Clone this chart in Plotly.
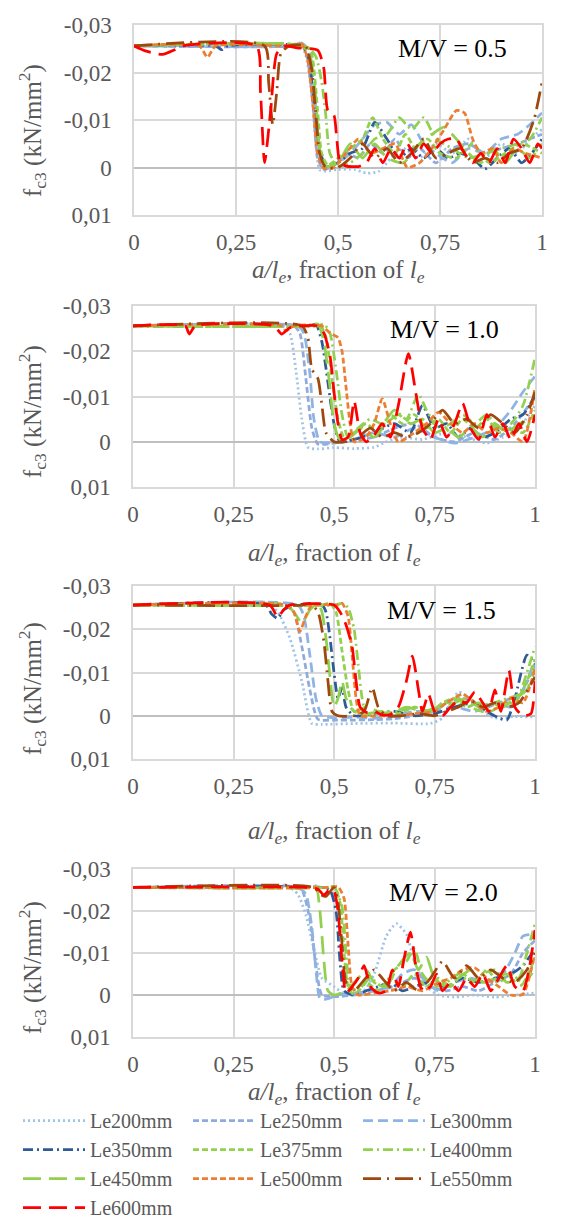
import plotly.graph_objects as go

W, H = 575, 1222
FONT = "Liberation Serif"
GREY = "#595959"

SERIES = ["Le200mm", "Le250mm", "Le300mm", "Le350mm", "Le375mm",
          "Le400mm", "Le450mm", "Le500mm", "Le550mm", "Le600mm"]
COLORS = ["#9DC3E6", "#8FAADC", "#8EB4E3", "#2E5A96", "#92D050",
          "#92D050", "#92D050", "#ED7D31", "#9E480E", "#FF0000"]
DASHES = ["2px,3px", "6px,3px", "10px,5px", "10px,4px,2px,4px", "6px,3px",
          "10px,4px,2px,4px", "18px,8px", "6px,3px", "18px,6px,2px,6px", "18px,8px"]

MV_LABELS = ["M/V = 0.5", "M/V = 1.0", "M/V = 1.5", "M/V = 2.0"]
X_TICKS = [0, 0.25, 0.5, 0.75, 1]
X_TICK_TEXT = ["0", "0,25", "0,5", "0,75", "1"]
Y_TICKS = [-0.03, -0.02, -0.01, 0, 0.01]
Y_TICK_TEXT = ["-0,03", "-0,02", "-0,01", "0", "0,01"]

# ---------------- M/V = 0.5 ----------------
MV05_LE200 = [(0,-0.0256),(0.38,-0.0256),(0.405,-0.0262),(0.42,-0.024),(0.435,-0.016),(0.445,-0.006),(0.455,0.0005),(0.47,0.0008),(0.50,0.0004),(0.54,0.0004),(0.57,0.0012),(0.60,0.0008),(0.63,-0.002),(0.66,-0.004),(0.70,-0.002),(0.74,-0.005),(0.78,-0.003),(0.82,-0.006),(0.86,-0.002),(0.90,-0.005),(0.94,-0.003),(0.97,-0.006),(1.0,-0.008)]
MV05_LE250 = [(0,-0.0256),(0.39,-0.0256),(0.41,-0.0262),(0.425,-0.023),(0.44,-0.012),(0.45,-0.002),(0.465,0.0004),(0.49,-0.0005),(0.52,-0.003),(0.55,-0.002),(0.58,-0.005),(0.61,-0.003),(0.64,-0.006),(0.67,-0.002),(0.70,-0.004),(0.74,-0.001),(0.78,-0.004),(0.82,-0.005),(0.86,-0.003),(0.90,-0.004),(0.94,-0.005),(0.97,-0.006),(1.0,-0.007)]
MV05_LE300 = [(0,-0.0256),(0.40,-0.0256),(0.415,-0.026),(0.43,-0.024),(0.445,-0.013),(0.455,-0.003),(0.47,0),(0.50,-0.001),(0.53,-0.003),(0.56,-0.006),(0.59,-0.009),(0.62,-0.0095),(0.65,-0.007),(0.68,-0.009),(0.71,-0.005),(0.74,-0.003),(0.78,-0.001),(0.82,-0.004),(0.86,-0.003),(0.90,-0.006),(0.94,-0.007),(0.97,-0.009),(1.0,-0.0115)]
MV05_LE350 = [(0,-0.0256),(0.20,-0.0256),(0.215,-0.0248),(0.23,-0.0256),(0.41,-0.0256),(0.425,-0.024),(0.44,-0.015),(0.455,-0.004),(0.47,-0.0003),(0.50,-0.001),(0.53,-0.003),(0.56,-0.004),(0.59,-0.0095),(0.62,-0.006),(0.65,-0.002),(0.68,-0.004),(0.71,-0.002),(0.74,-0.004),(0.77,-0.002),(0.80,-0.003),(0.83,-0.002),(0.86,0.0003),(0.89,-0.002),(0.92,-0.004),(0.95,-0.001),(0.975,-0.003),(1.0,-0.006)]
MV05_LE375 = [(0,-0.0256),(0.42,-0.0256),(0.435,-0.024),(0.45,-0.012),(0.46,-0.003),(0.475,-0.0005),(0.50,-0.002),(0.53,-0.004),(0.56,-0.006),(0.585,-0.0105),(0.61,-0.006),(0.64,-0.003),(0.665,-0.007),(0.69,-0.004),(0.72,-0.006),(0.75,-0.003),(0.79,-0.002),(0.83,-0.005),(0.87,-0.001),(0.91,-0.003),(0.95,-0.005),(1.0,-0.003)]
MV05_LE400 = [(0,-0.0256),(0.42,-0.0256),(0.445,-0.0235),(0.46,-0.018),(0.47,-0.011),(0.48,-0.003),(0.50,-0.0003),(0.53,-0.001),(0.56,-0.003),(0.59,-0.006),(0.62,-0.007),(0.65,-0.0105),(0.68,-0.008),(0.71,-0.0105),(0.74,-0.006),(0.78,-0.004),(0.82,-0.002),(0.86,-0.003),(0.90,-0.004),(0.94,-0.005),(0.97,-0.006),(1.0,-0.0105)]
MV05_LE450 = [(0,-0.0256),(0.41,-0.0256),(0.43,-0.024),(0.445,-0.015),(0.455,-0.004),(0.47,-0.0003),(0.50,-0.001),(0.53,-0.005),(0.56,-0.002),(0.59,-0.005),(0.62,-0.002),(0.66,-0.001),(0.70,-0.005),(0.73,-0.007),(0.76,-0.0085),(0.79,-0.006),(0.82,-0.003),(0.85,-0.001),(0.88,-0.004),(0.91,-0.001),(0.94,-0.004),(0.97,-0.002),(1.0,-0.005)]
MV05_LE500 = [(0,-0.0256),(0.16,-0.0256),(0.18,-0.0232),(0.20,-0.0256),(0.39,-0.0256),(0.41,-0.0262),(0.425,-0.023),(0.44,-0.012),(0.45,-0.003),(0.465,0.0002),(0.49,0),(0.52,-0.003),(0.55,-0.006),(0.58,-0.003),(0.61,-0.004),(0.64,-0.005),(0.67,0),(0.70,-0.001),(0.73,-0.004),(0.76,-0.008),(0.79,-0.012),(0.81,-0.0115),(0.83,-0.006),(0.85,-0.003),(0.88,-0.004),(0.90,-0.001),(0.93,-0.004),(0.96,-0.003),(1.0,-0.002)]
MV05_LE550 = [(0,-0.0256),(0.32,-0.0256),(0.33,-0.018),(0.34,-0.009),(0.35,-0.016),(0.36,-0.024),(0.38,-0.0256),(0.42,-0.0256),(0.435,-0.021),(0.445,-0.012),(0.455,-0.003),(0.47,0),(0.50,0),(0.53,-0.002),(0.56,-0.005),(0.59,-0.002),(0.62,-0.004),(0.65,-0.001),(0.68,-0.003),(0.71,-0.006),(0.74,-0.002),(0.77,-0.003),(0.80,-0.004),(0.83,-0.001),(0.86,-0.002),(0.89,-0.001),(0.92,-0.003),(0.95,-0.004),(0.98,-0.01),(1.0,-0.018)]
MV05_LE600 = [(0,-0.0256),(0.03,-0.0245),(0.07,-0.0238),(0.10,-0.0248),(0.12,-0.0256),(0.30,-0.0256),(0.31,-0.016),(0.32,-0.001),(0.335,-0.012),(0.35,-0.024),(0.37,-0.0256),(0.40,-0.0252),(0.45,-0.0247),(0.465,-0.021),(0.475,-0.012),(0.49,-0.011),(0.497,-0.006),(0.505,-0.001),(0.52,-0.0003),(0.55,-0.0002),(0.57,-0.001),(0.59,-0.004),(0.61,-0.001),(0.63,-0.004),(0.65,-0.002),(0.67,-0.005),(0.69,-0.002),(0.71,-0.005),(0.73,-0.003),(0.75,-0.005),(0.77,-0.006),(0.79,-0.006),(0.81,-0.003),(0.83,-0.001),(0.85,-0.003),(0.87,-0.001),(0.89,-0.004),(0.91,-0.001),(0.93,-0.006),(0.95,-0.004),(0.97,-0.001),(0.99,-0.005),(1.0,-0.004)]

# ---------------- M/V = 1.0 ----------------
MV10_LE200 = [(0,-0.0256),(0.37,-0.0256),(0.39,-0.024),(0.405,-0.016),(0.42,-0.005),(0.435,0.0012),(0.46,0.0016),(0.50,0.0013),(0.55,0.0015),(0.60,0.0012),(0.63,0),(0.67,-0.001),(0.72,-0.0005),(0.78,-0.002),(0.83,-0.001),(0.88,0.0003),(0.92,-0.001),(0.96,-0.003),(1.0,-0.008)]
MV10_LE250 = [(0,-0.0256),(0.40,-0.0256),(0.415,-0.024),(0.43,-0.014),(0.445,-0.003),(0.46,0.0005),(0.50,0.0003),(0.55,-0.0005),(0.60,-0.001),(0.65,-0.003),(0.70,-0.004),(0.75,-0.001),(0.80,0),(0.85,-0.002),(0.90,-0.0005),(0.95,-0.004),(1.0,-0.01)]
MV10_LE300 = [(0,-0.0256),(0.41,-0.0256),(0.425,-0.024),(0.44,-0.015),(0.45,-0.005),(0.465,0),(0.50,0.0002),(0.55,-0.0005),(0.60,-0.002),(0.65,-0.001),(0.70,-0.003),(0.75,-0.001),(0.80,0.0003),(0.85,-0.001),(0.90,-0.003),(0.94,-0.007),(0.97,-0.011),(1.0,-0.0145)]
MV10_LE350 = [(0,-0.0256),(0.44,-0.0256),(0.455,-0.026),(0.47,-0.022),(0.485,-0.013),(0.50,-0.004),(0.515,0),(0.55,-0.0005),(0.60,-0.002),(0.65,-0.004),(0.69,-0.002),(0.72,-0.008),(0.75,-0.003),(0.78,-0.004),(0.81,-0.001),(0.84,-0.003),(0.87,-0.001),(0.90,-0.002),(0.94,-0.005),(0.97,-0.006),(1.0,-0.01)]
MV10_LE375 = [(0,-0.0256),(0.45,-0.0256),(0.465,-0.026),(0.48,-0.023),(0.495,-0.014),(0.51,-0.005),(0.525,-0.001),(0.55,-0.002),(0.58,-0.004),(0.61,-0.002),(0.64,-0.006),(0.67,-0.004),(0.70,-0.006),(0.73,-0.003),(0.76,-0.005),(0.79,-0.002),(0.82,-0.005),(0.85,-0.003),(0.88,-0.005),(0.91,-0.002),(0.94,-0.003),(0.97,-0.002),(1.0,-0.007)]
MV10_LE400 = [(0,-0.0256),(0.46,-0.0256),(0.475,-0.026),(0.49,-0.024),(0.505,-0.016),(0.52,-0.006),(0.535,-0.001),(0.56,-0.003),(0.59,-0.005),(0.62,-0.004),(0.65,-0.007),(0.68,-0.005),(0.71,-0.0105),(0.73,-0.007),(0.76,-0.003),(0.79,-0.004),(0.82,-0.006),(0.85,-0.004),(0.88,-0.006),(0.91,-0.003),(0.94,-0.004),(0.97,-0.008),(1.0,-0.0185)]
MV10_LE450 = [(0,-0.0256),(0.44,-0.0256),(0.46,-0.026),(0.475,-0.022),(0.49,-0.012),(0.50,-0.004),(0.515,-0.0005),(0.54,-0.001),(0.57,-0.003),(0.60,-0.001),(0.63,-0.004),(0.66,-0.006),(0.69,-0.004),(0.72,-0.005),(0.75,-0.002),(0.78,-0.003),(0.81,-0.001),(0.84,-0.003),(0.87,-0.001),(0.90,-0.004),(0.93,-0.002),(0.96,-0.004),(1.0,-0.005)]
MV10_LE500 = [(0,-0.0256),(0.37,-0.0256),(0.38,-0.0245),(0.40,-0.0256),(0.47,-0.0256),(0.49,-0.024),(0.51,-0.023),(0.52,-0.02),(0.53,-0.012),(0.54,-0.004),(0.55,0),(0.58,-0.001),(0.60,-0.004),(0.62,-0.0095),(0.64,-0.004),(0.66,0),(0.70,-0.002),(0.73,-0.004),(0.76,-0.0065),(0.79,-0.004),(0.82,-0.002),(0.85,-0.004),(0.88,-0.002),(0.91,-0.003),(0.94,-0.002),(0.97,0),(1.0,-0.012)]
MV10_LE550 = [(0,-0.0256),(0.42,-0.0256),(0.435,-0.023),(0.445,-0.016),(0.46,-0.014),(0.47,-0.008),(0.48,-0.002),(0.50,0),(0.53,0),(0.56,-0.001),(0.59,-0.003),(0.62,-0.001),(0.65,-0.002),(0.68,-0.001),(0.71,-0.002),(0.74,-0.004),(0.77,-0.007),(0.80,-0.004),(0.83,-0.005),(0.86,-0.003),(0.89,-0.006),(0.92,-0.004),(0.95,-0.002),(0.98,-0.006),(1.0,-0.011)]
MV10_LE600 = [(0,-0.0256),(0.13,-0.0256),(0.14,-0.0238),(0.155,-0.0256),(0.35,-0.0256),(0.37,-0.0238),(0.39,-0.0252),(0.46,-0.0256),(0.475,-0.024),(0.49,-0.019),(0.50,-0.011),(0.51,-0.004),(0.52,-0.0005),(0.535,-0.001),(0.55,-0.009),(0.565,-0.002),(0.58,0),(0.60,-0.0015),(0.62,-0.004),(0.64,-0.001),(0.66,-0.008),(0.685,-0.0195),(0.705,-0.01),(0.72,-0.003),(0.74,-0.0005),(0.76,-0.005),(0.78,-0.001),(0.80,-0.004),(0.82,-0.0085),(0.84,-0.003),(0.86,-0.0005),(0.88,-0.006),(0.90,-0.001),(0.92,-0.004),(0.94,-0.0005),(0.96,-0.004),(0.98,0),(1.0,-0.006)]

# ---------------- M/V = 1.5 ----------------
MV15_LE200 = [(0,-0.0256),(0.30,-0.0256),(0.33,-0.0263),(0.36,-0.024),(0.39,-0.018),(0.42,-0.008),(0.445,0.0018),(0.47,0.002),(0.55,0.0018),(0.65,0.0017),(0.74,0.0018),(0.77,0.0005),(0.79,-0.003),(0.81,-0.0055),(0.84,-0.004),(0.87,-0.001),(0.90,0.0005),(0.95,0.0002),(1.0,0.0003)]
MV15_LE250 = [(0,-0.0256),(0.38,-0.0256),(0.40,-0.024),(0.42,-0.016),(0.44,-0.006),(0.46,0.0008),(0.50,0.001),(0.55,0.001),(0.60,0.0009),(0.65,0.0007),(0.70,0),(0.75,-0.001),(0.78,-0.003),(0.82,-0.004),(0.85,-0.003),(0.88,-0.002),(0.91,-0.003),(0.94,-0.004),(0.97,-0.006),(1.0,-0.012)]
MV15_LE300 = [(0,-0.0256),(0.41,-0.0256),(0.425,-0.023),(0.44,-0.014),(0.455,-0.004),(0.47,0),(0.50,0.0005),(0.55,0.0003),(0.60,0.0006),(0.65,0),(0.70,-0.001),(0.75,-0.001),(0.80,-0.002),(0.85,-0.001),(0.90,-0.003),(0.94,-0.002),(0.97,-0.006),(1.0,-0.013)]
MV15_LE350 = [(0,-0.0256),(0.33,-0.0256),(0.345,-0.0235),(0.36,-0.0225),(0.375,-0.0245),(0.40,-0.0256),(0.47,-0.0256),(0.48,-0.024),(0.49,-0.018),(0.50,-0.01),(0.51,-0.004),(0.52,-0.0065),(0.53,-0.002),(0.55,0),(0.60,-0.0005),(0.65,-0.001),(0.70,0),(0.75,-0.0005),(0.80,-0.002),(0.85,-0.003),(0.88,-0.001),(0.91,0.0005),(0.93,0.001),(0.95,-0.004),(0.98,-0.014),(1.0,-0.012)]
MV15_LE375 = [(0,-0.0256),(0.47,-0.0256),(0.49,-0.026),(0.505,-0.024),(0.52,-0.015),(0.535,-0.006),(0.55,-0.001),(0.58,-0.0005),(0.62,-0.001),(0.66,-0.0005),(0.70,-0.002),(0.74,-0.001),(0.77,-0.003),(0.80,-0.004),(0.83,-0.002),(0.86,-0.003),(0.89,-0.001),(0.92,-0.003),(0.95,-0.003),(0.98,-0.008),(1.0,-0.013)]
MV15_LE400 = [(0,-0.0256),(0.50,-0.0256),(0.52,-0.026),(0.535,-0.025),(0.55,-0.02),(0.56,-0.012),(0.57,-0.004),(0.58,-0.0005),(0.62,-0.0005),(0.66,-0.001),(0.70,-0.002),(0.74,-0.001),(0.78,-0.003),(0.81,-0.004),(0.84,-0.002),(0.87,-0.001),(0.90,-0.003),(0.93,-0.004),(0.96,-0.005),(0.98,-0.01),(1.0,-0.016)]
MV15_LE450 = [(0,-0.0256),(0.38,-0.0256),(0.40,-0.024),(0.42,-0.0215),(0.44,-0.0245),(0.46,-0.026),(0.47,-0.024),(0.48,-0.018),(0.49,-0.009),(0.50,-0.002),(0.51,-0.004),(0.52,-0.008),(0.53,-0.004),(0.55,-0.001),(0.58,-0.002),(0.61,-0.001),(0.64,-0.0005),(0.68,-0.002),(0.72,-0.001),(0.76,-0.002),(0.80,-0.003),(0.83,-0.004),(0.86,-0.002),(0.89,-0.003),(0.92,-0.002),(0.95,-0.004),(0.98,-0.006),(1.0,-0.011)]
MV15_LE500 = [(0,-0.0256),(0.38,-0.0256),(0.40,-0.024),(0.415,-0.0195),(0.43,-0.023),(0.445,-0.0256),(0.51,-0.0256),(0.52,-0.026),(0.535,-0.023),(0.545,-0.014),(0.555,-0.004),(0.565,0),(0.60,0),(0.65,0),(0.70,-0.0005),(0.75,-0.001),(0.78,-0.003),(0.82,-0.005),(0.85,-0.003),(0.88,-0.001),(0.91,-0.002),(0.94,-0.004),(0.97,-0.003),(1.0,-0.011)]
MV15_LE550 = [(0,-0.0256),(0.42,-0.0256),(0.44,-0.026),(0.46,-0.024),(0.475,-0.017),(0.485,-0.008),(0.495,-0.001),(0.51,0),(0.55,0),(0.575,-0.001),(0.595,-0.0065),(0.61,-0.002),(0.63,0),(0.67,0),(0.71,-0.0005),(0.75,0),(0.78,-0.001),(0.81,-0.002),(0.84,-0.0035),(0.87,-0.002),(0.90,-0.003),(0.93,-0.002),(0.96,-0.003),(1.0,-0.009)]
MV15_LE600 = [(0,-0.0256),(0.34,-0.0256),(0.36,-0.0228),(0.375,-0.0245),(0.39,-0.0256),(0.50,-0.0256),(0.515,-0.024),(0.53,-0.021),(0.545,-0.016),(0.555,-0.008),(0.565,-0.002),(0.58,-0.0008),(0.60,-0.001),(0.62,-0.0002),(0.64,-0.0003),(0.66,-0.002),(0.68,-0.008),(0.695,-0.0138),(0.71,-0.006),(0.72,-0.001),(0.735,-0.005),(0.75,-0.001),(0.77,0),(0.79,-0.002),(0.81,-0.0035),(0.83,-0.003),(0.85,-0.0055),(0.87,-0.003),(0.885,-0.001),(0.90,-0.006),(0.915,-0.001),(0.935,-0.0105),(0.95,-0.002),(0.97,0),(0.99,-0.0005),(1.0,-0.008)]

# ---------------- M/V = 2.0 ----------------
MV20_LE200 = [(0,-0.0256),(0.35,-0.0256),(0.38,-0.0262),(0.41,-0.024),(0.43,-0.019),(0.45,-0.011),(0.47,-0.004),(0.50,-0.002),(0.53,0),(0.57,-0.0005),(0.60,-0.005),(0.63,-0.014),(0.655,-0.017),(0.68,-0.0145),(0.70,-0.008),(0.73,-0.002),(0.76,0),(0.80,0.0005),(0.85,0),(0.90,0.0005),(0.95,0),(1.0,-0.0005)]
MV20_LE250 = [(0,-0.0256),(0.40,-0.0256),(0.42,-0.025),(0.44,-0.018),(0.455,-0.007),(0.47,0),(0.50,0.0004),(0.55,0),(0.60,-0.001),(0.65,-0.002),(0.70,-0.004),(0.74,-0.002),(0.78,-0.001),(0.82,-0.002),(0.86,-0.001),(0.90,-0.003),(0.94,-0.005),(0.97,-0.01),(1.0,-0.013)]
MV20_LE300 = [(0,-0.0256),(0.41,-0.0256),(0.43,-0.024),(0.445,-0.016),(0.455,-0.006),(0.465,0.0008),(0.48,0.001),(0.51,0),(0.55,-0.0005),(0.60,-0.001),(0.64,-0.002),(0.67,-0.005),(0.70,-0.006),(0.73,-0.003),(0.76,-0.001),(0.80,-0.003),(0.84,-0.004),(0.88,-0.003),(0.92,-0.005),(0.95,-0.01),(0.97,-0.014),(1.0,-0.0145)]
MV20_LE350 = [(0,-0.0256),(0.47,-0.0256),(0.49,-0.025),(0.505,-0.02),(0.515,-0.008),(0.525,-0.001),(0.55,0),(0.58,-0.001),(0.61,-0.002),(0.64,-0.003),(0.67,-0.001),(0.70,-0.002),(0.74,-0.003),(0.78,-0.002),(0.82,-0.004),(0.86,-0.003),(0.90,-0.004),(0.94,-0.005),(0.97,-0.007),(1.0,-0.011)]
MV20_LE375 = [(0,-0.0256),(0.48,-0.0256),(0.50,-0.0258),(0.515,-0.022),(0.525,-0.01),(0.535,-0.002),(0.55,0),(0.58,-0.003),(0.61,-0.001),(0.64,-0.004),(0.67,-0.002),(0.70,-0.005),(0.73,-0.002),(0.76,-0.004),(0.79,-0.002),(0.82,-0.005),(0.85,-0.003),(0.88,-0.006),(0.91,-0.003),(0.94,-0.005),(0.97,-0.003),(1.0,-0.009)]
MV20_LE400 = [(0,-0.0256),(0.48,-0.0256),(0.50,-0.0258),(0.52,-0.021),(0.53,-0.01),(0.54,-0.002),(0.56,-0.001),(0.59,-0.004),(0.62,-0.002),(0.65,-0.006),(0.68,-0.008),(0.70,-0.011),(0.72,-0.005),(0.75,-0.002),(0.78,-0.003),(0.81,-0.005),(0.84,-0.003),(0.87,-0.005),(0.90,-0.006),(0.93,-0.003),(0.96,-0.004),(0.98,-0.01),(1.0,-0.017)]
MV20_LE450 = [(0,-0.0256),(0.44,-0.0256),(0.455,-0.026),(0.465,-0.02),(0.475,-0.008),(0.485,-0.001),(0.50,0),(0.53,-0.001),(0.56,-0.004),(0.58,-0.006),(0.60,-0.003),(0.63,-0.002),(0.66,-0.007),(0.69,-0.01),(0.71,-0.006),(0.73,-0.009),(0.75,-0.004),(0.78,-0.002),(0.81,-0.004),(0.84,-0.006),(0.87,-0.003),(0.90,-0.004),(0.93,-0.005),(0.96,-0.002),(1.0,-0.006)]
MV20_LE500 = [(0,-0.0256),(0.49,-0.0256),(0.51,-0.0258),(0.525,-0.023),(0.535,-0.012),(0.545,-0.002),(0.56,0),(0.60,-0.0005),(0.64,-0.001),(0.68,-0.002),(0.72,-0.001),(0.76,-0.003),(0.79,-0.004),(0.82,-0.006),(0.85,-0.0065),(0.88,-0.004),(0.91,-0.002),(0.94,0),(0.97,-0.0002),(1.0,-0.01)]
MV20_LE550 = [(0,-0.0256),(0.45,-0.0256),(0.465,-0.024),(0.48,-0.0235),(0.50,-0.0256),(0.51,-0.022),(0.52,-0.012),(0.53,-0.003),(0.55,-0.001),(0.57,-0.003),(0.60,-0.006),(0.62,-0.004),(0.65,-0.001),(0.68,-0.003),(0.71,-0.001),(0.74,-0.004),(0.77,-0.008),(0.80,-0.004),(0.83,-0.007),(0.86,-0.004),(0.89,-0.006),(0.92,-0.004),(0.95,-0.003),(0.98,-0.006),(1.0,-0.01)]
MV20_LE600 = [(0,-0.0256),(0.44,-0.0256),(0.46,-0.0252),(0.475,-0.0238),(0.49,-0.0252),(0.50,-0.0248),(0.51,-0.02),(0.52,-0.008),(0.53,-0.0005),(0.545,-0.002),(0.56,-0.004),(0.575,-0.007),(0.59,-0.002),(0.61,-0.0005),(0.63,-0.001),(0.645,-0.006),(0.66,-0.002),(0.675,-0.009),(0.69,-0.015),(0.705,-0.006),(0.72,-0.001),(0.74,-0.002),(0.755,-0.005),(0.77,-0.001),(0.79,-0.003),(0.81,-0.001),(0.83,-0.004),(0.85,-0.002),(0.87,-0.005),(0.89,-0.001),(0.91,-0.004),(0.93,-0.007),(0.95,-0.002),(0.97,-0.001),(0.985,-0.006),(1.0,-0.0155)]

PANELS = [
    [MV05_LE200, MV05_LE250, MV05_LE300, MV05_LE350, MV05_LE375, MV05_LE400, MV05_LE450, MV05_LE500, MV05_LE550, MV05_LE600],
    [MV10_LE200, MV10_LE250, MV10_LE300, MV10_LE350, MV10_LE375, MV10_LE400, MV10_LE450, MV10_LE500, MV10_LE550, MV10_LE600],
    [MV15_LE200, MV15_LE250, MV15_LE300, MV15_LE350, MV15_LE375, MV15_LE400, MV15_LE450, MV15_LE500, MV15_LE550, MV15_LE600],
    [MV20_LE200, MV20_LE250, MV20_LE300, MV20_LE350, MV20_LE375, MV20_LE400, MV20_LE450, MV20_LE500, MV20_LE550, MV20_LE600],
]

# layout boxes in pixels: (left, right, top, bottom)
BOXES = [(126, 534, 17, 207), (125, 527, 298, 479), (125, 527, 578, 751), (125, 527, 861, 1029)]
YTITLE_Y = [123, 404, 681, 960]
XTITLE_Y = [263, 546, 824, 1085]
MV_POS = [(444, 41), (436, 321), (433, 602), (435, 884)]

def px(x):
    return x / W

def py(y):
    return 1 - y / H

fig = go.Figure()
annotations = []
for p, series_list in enumerate(PANELS):
    ax = "" if p == 0 else str(p + 1)
    for s, pts in enumerate(series_list):
        fig.add_trace(go.Scatter(
            x=[a for a, b in pts], y=[b for a, b in pts],
            mode="lines", name=SERIES[s],
            line=dict(color=COLORS[s], width=2.75, dash=DASHES[s], shape="spline", smoothing=0.6),
            xaxis="x" + ax, yaxis="y" + ax,
            showlegend=(p == 0), legendgroup=SERIES[s],
        ))
    l, r, t, b = BOXES[p]
    fig.layout["xaxis" + ax] = dict(
        domain=[px(l), px(r)], anchor="y" + ax, range=[0, 1],
        tickvals=X_TICKS, ticktext=X_TICK_TEXT, showgrid=True, gridcolor="#d9d9d9", gridwidth=1.5,
        zeroline=False, showline=True, linecolor="#d9d9d9", linewidth=1.5, mirror=True,
        ticks="outside", ticklen=6, tickcolor="rgba(0,0,0,0)",
        tickfont=dict(family=FONT, size=23, color=GREY))
    fig.layout["yaxis" + ax] = dict(
        domain=[py(b), py(t)], anchor="x" + ax, range=[0.01, -0.03],
        tickvals=Y_TICKS, ticktext=Y_TICK_TEXT, showgrid=True, gridcolor="#d9d9d9", gridwidth=1.5,
        zeroline=True, zerolinecolor="#bfbfbf", zerolinewidth=2,
        showline=True, linecolor="#d9d9d9", linewidth=1.5, mirror=True,
        ticks="outside", ticklen=16, tickcolor="rgba(0,0,0,0)",
        tickfont=dict(family=FONT, size=23, color=GREY))
    annotations.append(dict(
        text="f<sub>c3</sub> (kN/mm<sup>2</sup>)", xref="paper", yref="paper",
        x=px(24), y=py(YTITLE_Y[p]), textangle=-90, showarrow=False,
        xanchor="center", yanchor="middle", font=dict(family=FONT, size=25, color=GREY)))
    annotations.append(dict(
        text="<i>a/l<sub>e</sub></i>, fraction of <i>l<sub>e</sub></i>", xref="paper", yref="paper",
        x=px((l + r) / 2), y=py(XTITLE_Y[p]), showarrow=False,
        xanchor="center", yanchor="middle", font=dict(family=FONT, size=25, color=GREY)))
    annotations.append(dict(
        text=MV_LABELS[p], xref="paper", yref="paper",
        x=px(MV_POS[p][0]), y=py(MV_POS[p][1]), showarrow=False,
        xanchor="center", yanchor="middle", font=dict(family=FONT, size=26, color="black")))

fig.update_layout(
    width=W, height=H, margin=dict(l=0, r=0, t=0, b=0, autoexpand=False),
    paper_bgcolor="white", plot_bgcolor="white",
    font=dict(family=FONT, color=GREY),
    annotations=annotations,
    legend=dict(orientation="h", x=px(10), y=py(1093), xanchor="left", yanchor="top",
                entrywidth=93, entrywidthmode="pixels", itemwidth=62,
                font=dict(family=FONT, size=20, color=GREY), tracegroupgap=0,
                bgcolor="rgba(0,0,0,0)"),
)
fig.write_html("out.html")
